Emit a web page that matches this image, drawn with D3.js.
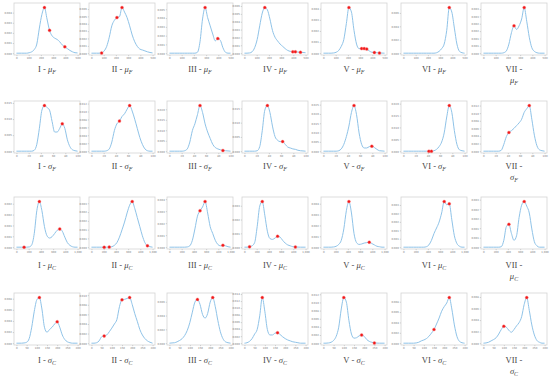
<!DOCTYPE html>
<html>
<head>
<meta charset="utf-8">
<script src="https://cdn.jsdelivr.net/npm/d3@7"></script>
<style>
body { margin: 0; background: #fff; }
</style>
</head>
<body>
<script>
// regions and row labels
var regions = ["I", "II", "III", "IV", "V", "VI", "VII"];
var rowSymbol = ["μ", "σ", "μ", "σ"];
var rowSub = ["F", "F", "C", "C"];
var rowXMax = [500, 100, 1000, 300];

// density curves, 25 samples over the x range, relative to the peak
var muF = [
  [0,0,0,0,0,0.01,0.03,0.08,0.2,0.55,0.85,1.0,0.75,0.5,0.38,0.33,0.3,0.25,0.18,0.14,0.1,0.06,0.03,0.01,0.005],
  [0,0,0,0,0.005,0.05,0.15,0.35,0.6,0.72,0.78,0.8,1.0,0.9,0.78,0.6,0.4,0.25,0.15,0.09,0.07,0.05,0.03,0.015,0.005],
  [0,0,0,0,0,0,0,0,0,0,0,0.02,0.25,0.75,1.0,0.78,0.6,0.42,0.27,0.32,0.28,0.12,0.02,0,0],
  [0,0,0.005,0.03,0.12,0.3,0.6,0.88,1.0,0.95,0.75,0.5,0.35,0.27,0.2,0.15,0.1,0.06,0.04,0.03,0.03,0.025,0.02,0.015,0.01],
  [0,0,0,0,0.005,0.02,0.06,0.15,0.3,0.65,1.0,0.9,0.5,0.2,0.1,0.1,0.1,0.09,0.05,0.02,0.015,0.01,0.005,0.002,0],
  [0,0,0,0,0,0,0,0,0,0,0,0,0,0.01,0.04,0.1,0.2,0.5,1.0,0.9,0.55,0.2,0.04,0.01,0],
  [0,0,0,0,0,0,0,0,0.01,0.05,0.2,0.45,0.6,0.52,0.6,0.75,1.0,0.7,0.35,0.12,0.04,0.01,0,0,0]
];
var sigF = [
  [0,0,0,0,0,0,0,0.02,0.15,0.5,0.9,1.0,0.96,0.9,0.65,0.42,0.42,0.5,0.6,0.5,0.25,0.1,0.03,0.01,0],
  [0,0,0,0,0,0,0.01,0.05,0.2,0.45,0.6,0.66,0.76,0.82,0.92,1.0,0.88,0.7,0.5,0.3,0.15,0.05,0.01,0,0],
  [0,0,0,0,0,0,0.01,0.05,0.2,0.45,0.6,0.8,1.0,0.85,0.6,0.42,0.28,0.15,0.08,0.05,0.03,0.015,0.01,0.005,0],
  [0,0,0,0,0,0.01,0.1,0.45,0.9,1.0,0.85,0.55,0.32,0.24,0.21,0.21,0.15,0.09,0.07,0.05,0.04,0.02,0.01,0.005,0],
  [0,0,0,0,0,0,0.01,0.05,0.15,0.32,0.55,0.85,1.0,0.8,0.4,0.15,0.07,0.07,0.1,0.11,0.08,0.04,0.01,0.005,0],
  [0,0,0,0,0,0,0,0,0,0,0,0,0.01,0.04,0.1,0.2,0.4,0.75,1.0,0.85,0.45,0.15,0.03,0.01,0],
  [0,0,0,0,0,0,0,0.02,0.15,0.32,0.41,0.45,0.5,0.56,0.62,0.7,0.85,0.93,1.0,0.7,0.35,0.12,0.03,0.01,0]
];
var muC = [
  [0,0,0,0,0,0.005,0.05,0.3,0.8,1.0,0.8,0.45,0.25,0.2,0.23,0.3,0.37,0.4,0.35,0.22,0.1,0.04,0.01,0,0],
  [0,0,0,0,0,0,0,0.002,0.01,0.04,0.1,0.22,0.38,0.55,0.75,0.92,1.0,0.85,0.65,0.45,0.25,0.1,0.03,0.01,0],
  [0,0,0,0,0,0,0,0.005,0.03,0.15,0.4,0.68,0.8,0.88,1.0,0.75,0.45,0.3,0.15,0.06,0.03,0.04,0.03,0.01,0],
  [0,0,0.01,0.03,0.1,0.45,0.9,1.0,0.7,0.35,0.19,0.17,0.2,0.24,0.22,0.15,0.09,0.05,0.03,0.01,0.005,0.002,0,0,0],
  [0,0,0,0,0.005,0.02,0.06,0.15,0.4,0.8,1.0,0.75,0.3,0.1,0.06,0.07,0.09,0.1,0.11,0.08,0.05,0.02,0.01,0,0],
  [0,0,0,0,0,0,0,0,0,0.01,0.05,0.15,0.3,0.42,0.55,0.75,1.0,0.93,0.95,0.6,0.25,0.08,0.02,0,0],
  [0,0,0,0,0,0,0,0.01,0.15,0.45,0.5,0.3,0.15,0.25,0.65,0.92,1.0,0.9,0.75,0.4,0.12,0.03,0,0,0]
];
var sigC = [
  [0,0,0,0.005,0.02,0.1,0.35,0.7,0.95,1.0,0.75,0.35,0.24,0.3,0.35,0.42,0.47,0.35,0.18,0.08,0.03,0.01,0,0,0],
  [0,0,0.01,0.05,0.14,0.16,0.18,0.25,0.33,0.42,0.52,0.8,0.95,0.96,0.98,1.0,0.85,0.65,0.48,0.3,0.18,0.1,0.05,0.02,0],
  [0,0.005,0.01,0.03,0.06,0.1,0.17,0.28,0.45,0.68,0.9,0.96,0.85,0.63,0.55,0.65,0.9,1.0,0.8,0.5,0.25,0.1,0.03,0.01,0],
  [0,0.01,0.04,0.1,0.2,0.3,0.6,1.0,0.7,0.3,0.18,0.18,0.22,0.23,0.19,0.14,0.1,0.07,0.05,0.03,0.02,0.01,0,0,0],
  [0,0,0.005,0.02,0.06,0.15,0.35,0.75,1.0,0.9,0.5,0.2,0.11,0.12,0.16,0.18,0.15,0.08,0.04,0.02,0.005,0.002,0,0,0],
  [0,0,0,0,0,0.005,0.02,0.05,0.07,0.1,0.15,0.22,0.3,0.42,0.55,0.7,0.8,0.88,1.0,0.75,0.4,0.15,0.04,0.01,0],
  [0,0.005,0.02,0.05,0.08,0.12,0.2,0.3,0.37,0.35,0.28,0.24,0.3,0.38,0.45,0.58,0.85,1.0,0.72,0.4,0.18,0.06,0.02,0,0]
];

// red marked points (sample index)
var muFDots = [[11,13,19],[4,10,12],[14,19],[8,19,20,22],[10,15,16,17,20,22],[18],[12,16]];
var sigFDots = [[11,18],[11,15],[12,21],[9,15],[12,19],[10,11,18],[10,18]];
var muCDots = [[3,9,17],[5,7,16,22],[12,14,21],[2,7,13,20],[10,18],[16,18],[10,16]];
var sigCDots = [[9,16],[5,12,15],[11,17],[7,13],[8,15,20],[12,18],[8,17]];

// peak density per panel (for the y ticks)
var muFPeak = [0.0045, 0.0062, 0.0052, 0.0058, 0.0041, 0.0068, 0.0031];
var sigFPeak = [0.0142, 0.0115, 0.0218, 0.0160, 0.0245, 0.0192, 0.0120];
var muCPeak = [0.0021, 0.0026, 0.0038, 0.0033, 0.0042, 0.0027, 0.0024];
var sigCPeak = [0.0082, 0.0095, 0.0066, 0.0130, 0.0112, 0.0088, 0.0079];

var curves = [muF, sigF, muC, sigC];
var dots = [muFDots, sigFDots, muCDots, sigCDots];
var peaks = [muFPeak, sigFPeak, muCPeak, sigCPeak];

var colCenter = [45, 120, 198, 273, 352, 432, 512];
var rowTop = [3, 101, 197, 293];
var labelY = [72, 169, 268, 363];
var boxH = 52;

var svg = d3.select("body").append("svg")
    .attr("width", 550)
    .attr("height", 378)
    .style("font-family", "'Liberation Serif', 'DejaVu Serif', serif");

curves.forEach(function (row, r) {
  row.forEach(function (vals, c) {
    var left = colCenter[c] - 31, right = colCenter[c] + 35;
    var top = rowTop[r], bottom = top + boxH;
    var xMax = rowXMax[r], peak = peaks[r][c];
    var n = vals.length;
    var xv = function (i) { return i / (n - 1) * xMax; };

    var x = d3.scaleLinear().domain([-0.04 * xMax, 1.04 * xMax]).range([left, right]);
    var y = d3.scaleLinear().domain([-0.04 * peak, 1.1 * peak]).range([bottom, top]);

    var g = svg.append("g");

    g.append("rect")
      .attr("x", left).attr("y", top)
      .attr("width", right - left).attr("height", boxH)
      .attr("fill", "none")
      .attr("stroke", "#d4d4d4")
      .attr("stroke-width", 0.8);

    var ya = g.append("g")
      .attr("transform", "translate(" + left + ",0)")
      .call(d3.axisLeft(y).ticks(5).tickSize(1.2).tickPadding(1).tickFormat(d3.format(".3f")));
    var xa = g.append("g")
      .attr("transform", "translate(0," + bottom + ")")
      .call(d3.axisBottom(x).ticks(6).tickSize(1.2).tickPadding(1));
    [ya, xa].forEach(function (a) {
      a.select(".domain").remove();
      a.selectAll("line").attr("stroke", "#999").attr("stroke-width", 0.4);
      a.selectAll("text").attr("fill", "#777")
        .style("font-family", "'DejaVu Sans', sans-serif")
        .style("font-size", "2.6px");
    });

    var line = d3.line()
      .x(function (d, i) { return x(xv(i)); })
      .y(function (d) { return y(d * peak); })
      .curve(d3.curveMonotoneX);

    g.append("path")
      .datum(vals)
      .attr("d", line)
      .attr("fill", "none")
      .attr("stroke", "#8fc3e8")
      .attr("stroke-width", 1);

    g.selectAll(".dot")
      .data(dots[r][c])
      .enter()
      .append("circle")
      .attr("cx", function (i) { return x(xv(i)); })
      .attr("cy", function (i) { return y(vals[i] * peak); })
      .attr("r", 1.5)
      .attr("fill", "#f01818")
      .attr("stroke", "#ff8080")
      .attr("stroke-width", 0.4);

    // label under the panel
    var lab = svg.append("text")
      .attr("x", colCenter[c] + 2)
      .attr("y", labelY[r])
      .attr("text-anchor", "middle")
      .attr("fill", "#444")
      .style("font-size", "8.5px");
    if (c < 6) {
      lab.append("tspan").text(regions[c] + " - ");
      lab.append("tspan").style("font-style", "italic").text(rowSymbol[r]);
      lab.append("tspan").style("font-style", "italic").style("font-size", "6px")
        .attr("dy", 1.8).text(rowSub[r]);
    } else {
      lab.append("tspan").text(regions[c] + " -");
      var lab2 = svg.append("text")
        .attr("x", colCenter[c] + 2)
        .attr("y", labelY[r] + 11)
        .attr("text-anchor", "middle")
        .attr("fill", "#444")
        .style("font-size", "8.5px");
      lab2.append("tspan").style("font-style", "italic").text(rowSymbol[r]);
      lab2.append("tspan").style("font-style", "italic").style("font-size", "6px")
        .attr("dy", 1.8).text(rowSub[r]);
    }
  });
});
</script>
</body>
</html>
